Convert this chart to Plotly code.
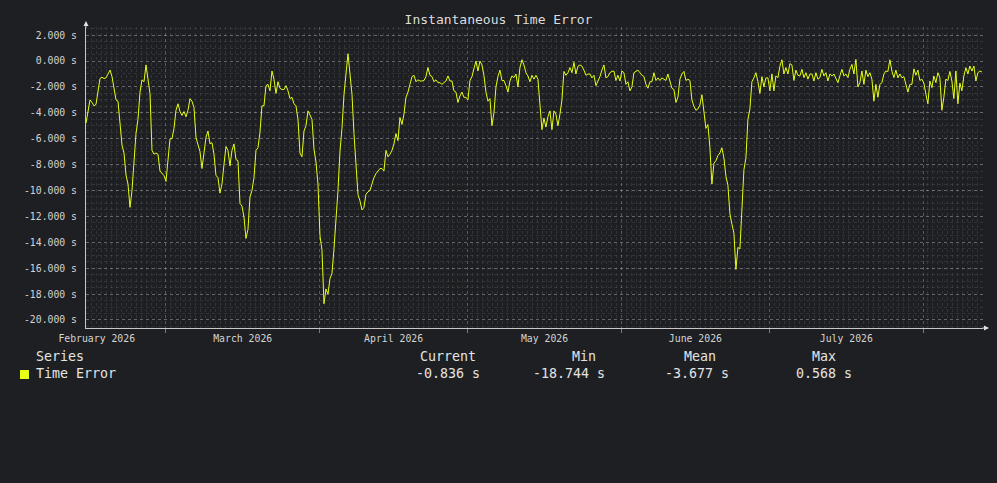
import pandas as pd
import plotly.graph_objects as go

# ---------------- data ----------------
series_name = "Time Error"
sample_start = "2026-02-12 20:00"
sample_step = "582min"

time_error_s = [
    -4.8, -3.9, -3.0, -3.2, -3.46, -3.35, -2.3, -1.35, -1.25, -1.35,
    -1.3, -1.0, -0.7, -1.2, -2.2, -3.0, -3.1, -5.0, -6.5, -7.1,
    -8.8, -9.5, -11.3, -10.0, -8.0, -5.6, -4.5, -2.4, -1.45, -1.6,
    -0.3, -1.5, -2.5, -6.9, -7.2, -7.1, -7.2, -8.5, -8.7, -8.85,
    -9.3, -7.8, -6.0, -6.0, -5.2, -3.8, -3.3, -3.9, -4.2, -3.9,
    -4.3, -3.8, -2.9, -3.1, -3.6, -5.9, -6.4, -7.0, -8.3, -6.9,
    -5.9, -5.4, -6.4, -6.3, -7.2, -8.85, -9.0, -10.2, -9.5, -8.0,
    -6.6, -6.9, -8.1, -6.9, -6.4, -7.6, -7.7, -11.0, -11.2, -12.05,
    -13.7, -13.0, -10.5, -10.0, -9.0, -6.9, -6.7, -5.5, -3.46,
    -3.46, -1.9, -1.8, -2.3, -0.77, -1.4, -2.5, -1.6, -2.1, -2.2,
    -2.2, -1.9, -2.3, -2.9, -2.8, -3.3, -3.46, -4.5, -7.1, -7.4,
    -5.4, -5.0, -3.85, -4.2, -4.5, -6.8, -7.8, -9.5, -13.5, -14.6,
    -18.744, -17.6, -18.0, -16.8, -16.4, -14.5, -12.5, -10.0, -7.0, -5.2,
    -2.6, -0.7, 0.568, -1.0, -2.56, -5.6, -7.9, -10.3, -10.8, -11.5,
    -11.3, -10.3, -10.1, -10.0, -9.5, -9.0, -8.7, -8.5, -8.3, -8.3,
    -8.5, -6.9, -7.4, -7.2, -6.9, -6.4, -5.6, -6.15, -4.36, -4.9,
    -4.1, -2.8, -2.4, -1.8, -1.2, -1.1, -1.6, -1.45, -1.54, -1.54,
    -1.5, -1.2, -0.5, -1.1, -1.2, -1.6, -1.45, -1.67,
    -1.67, -1.8, -1.67, -1.54, -1.15, -1.54, -1.54, -2.3, -2.4, -3.2,
    -2.7, -2.4, -2.8, -2.8, -3.0, -1.5, -1.2, -0.5, 0.0, -0.77,
    0.0, -0.3, -1.1, -2.4, -3.1, -2.9, -5.0, -4.0, -2.0, -1.2,
    -0.7, -1.5, -1.5, -1.9, -2.4, -1.54, -1.15, -1.28, -1.0, -2.0,
    -0.5, 0.1, -0.3, -0.9, -1.15, -1.6, -1.1, -1.4, -1.1, -1.4,
    -3.2, -5.3, -4.4, -5.1, -4.3, -3.85, -5.3, -3.85, -4.1, -5.0,
    -4.1, -3.0, -0.8, -1.1, -0.9, -0.5, -0.9, -0.1, -1.0, -0.4,
    -0.3, -0.4, -0.7, -1.1, -1.0, -1.0, -1.3, -1.1, -1.9, -1.6,
    -1.2, -0.7, -0.3, -1.3, -1.2, -0.9, -0.8, -0.77, -1.5, -1.1,
    -1.54, -0.77, -0.9, -1.8, -1.6, -2.3, -2.0, -0.9, -0.77, -0.7,
    -0.9, -1.1, -1.2, -1.8, -2.1, -1.6, -1.6, -0.9, -1.5, -1.3,
    -1.5, -1.3, -1.4, -1.5, -1.0, -1.5, -2.1, -2.2, -3.2, -2.8,
    -1.4, -1.0, -0.8, -1.5, -1.4, -1.5, -3.0, -3.5, -3.8, -3.7,
    -3.4, -2.6, -3.8, -5.2, -4.9, -6.7, -9.5, -7.9, -7.7, -7.3,
    -7.1, -6.7, -7.5, -8.9, -9.6, -11.8, -12.6, -13.3, -16.1, -14.4,
    -14.5, -10.8, -8.4, -7.5, -4.5, -3.7, -1.6, -1.3, -0.9, -1.6,
    -2.5, -1.2, -2.0, -1.3, -1.3, -2.3, -1.0, -2.3, -1.15, -1.28,
    -0.4, 0.1, -1.0, -0.5, -1.0, -0.2, -0.3, -1.5, -0.7, -1.1,
    -1.15, -0.64, -1.28, -0.9, -1.4, -1.0, -1.0, -1.54, -0.9, -1.4,
    -1.28, -0.64, -1.15, -0.9, -1.54, -1.0, -1.15, -1.0, -1.28, -1.67,
    -1.15, -0.64, -1.15, -1.0, -1.28, -0.64, -0.26, -1.0, 0.13, -2.0,
    -1.67, -0.77, -1.8, -0.7, -1.2, -0.9, -1.4, -3.1, -1.8, -2.8,
    -1.8, -1.67, -1.0, -0.77, -0.8, 0.1, -0.77, -1.28, -0.7, -1.3,
    -1.0, -1.3, -1.2, -1.9, -2.4, -1.8, -1.8, -0.6, -1.1, -0.7,
    -1.5, -1.4, -1.7, -2.56, -3.3, -1.54, -2.05, -1.15, -1.67, -0.9,
    -1.28, -3.8, -2.8, -1.4, -1.5, -0.8, -1.54, -2.9, -0.77, -3.3,
    -1.7, -2.3, -1.15, -0.51, -1.0, -0.38, -0.77, -0.38, -1.54, -0.9,
    -0.77, -0.836,
]

y_tick_values = [2, 0, -2, -4, -6, -8, -10, -12, -14, -16, -18, -20]
summary_headers = ["Current", "Min", "Mean", "Max"]
summary_values = ["-0.836 s", "-18.744 s", "-3.677 s", "0.568 s"]

# ---------------- style ----------------
BG = "#1e1f22"
LINE = "#e6ff14"
TXT = "#d4d4d4"
MAJOR = "rgba(255,255,255,0.26)"
MINOR = "rgba(255,255,255,0.09)"
AXIS = "#c8c8c8"
MONO = "DejaVu Sans Mono"

W, H = 997, 483
L, R, T, B = 86, 983, 27, 328


def px(xp):
    return (xp - L) / (R - L)


def py(yp):
    return (B - yp) / (B - T)


times = pd.date_range(sample_start, periods=len(time_error_s), freq=sample_step)

fig = go.Figure()
fig.add_trace(go.Scatter(
    x=times, y=time_error_s, mode="lines", name=series_name,
    line=dict(color=LINE, width=1), showlegend=False,
))

fig.update_layout(
    width=W, height=H,
    paper_bgcolor=BG, plot_bgcolor=BG,
    margin=dict(l=L, r=W - R, t=T, b=H - B),
    font=dict(family=MONO, color=TXT),
    title=dict(text="Instantaneous Time Error", x=0.5, xref="container",
               y=1 - 19 / H, yref="container", yanchor="middle", xanchor="center",
               font=dict(family=MONO, size=13, color="#dcdcdc")),
)

fig.update_xaxes(
    type="date",
    range=["2026-02-12 20:00", "2026-08-13 03:00"],
    tickmode="linear", tick0="2026-01-01", dtick="M1",
    ticklabelmode="period", tickformat="%B %Y",
    tickfont=dict(family=MONO, size=9.8, color=TXT),
    ticks="outside", ticklen=4, tickcolor="#777777",
    showgrid=True, gridcolor=MAJOR, griddash="dot", gridwidth=1,
    minor=dict(dtick=86400000, tick0="2026-02-01", showgrid=True,
               gridcolor=MINOR, griddash="dot", ticks=""),
    showline=True, linecolor=AXIS, linewidth=1,
    zeroline=False, ticklabelstandoff=-3,
)

fig.update_yaxes(
    range=[-20.62, 2.63],
    tickmode="array", tickvals=y_tick_values,
    ticktext=[f"{v:.3f} s" for v in y_tick_values],
    tickfont=dict(family=MONO, size=9.8, color=TXT),
    showgrid=True, gridcolor=MAJOR, griddash="dot", gridwidth=1,
    minor=dict(tickmode="linear", tick0=0, dtick=0.5, showgrid=True,
               gridcolor=MINOR, griddash="dot", ticks=""),
    showline=True, linecolor=AXIS, linewidth=1,
    zeroline=False, ticks="", ticklabelstandoff=6,
)

annotations = []
# axis arrows
annotations.append(dict(xref="paper", yref="paper", x=0, y=py(21), ax=0, ay=8,
                        showarrow=True, arrowhead=2, arrowsize=1, arrowwidth=1,
                        arrowcolor="#e0e0e0", text=""))
annotations.append(dict(xref="paper", yref="paper", x=px(989), y=0, ax=-8, ay=0,
                        showarrow=True, arrowhead=2, arrowsize=1, arrowwidth=1,
                        arrowcolor="#e0e0e0", text=""))

# summary table
LEG_FONT = dict(family=MONO, size=13.3, color="#e4e4e4")
annotations.append(dict(xref="paper", yref="paper", x=px(34), y=py(356),
                        xanchor="left", yanchor="middle", showarrow=False,
                        text="Series", font=LEG_FONT))
annotations.append(dict(xref="paper", yref="paper", x=px(34), y=py(374),
                        xanchor="left", yanchor="middle", showarrow=False,
                        text=series_name, font=LEG_FONT))
head_x = [448, 584, 700, 824]
val_x = [448, 568.5, 696.5, 824]
for h, v, hx, vx in zip(summary_headers, summary_values, head_x, val_x):
    annotations.append(dict(xref="paper", yref="paper", x=px(hx), y=py(356),
                            xanchor="center", yanchor="middle", showarrow=False,
                            text=h, font=LEG_FONT))
    annotations.append(dict(xref="paper", yref="paper", x=px(vx), y=py(374),
                            xanchor="center", yanchor="middle", showarrow=False,
                            text=v, font=LEG_FONT))
fig.update_layout(annotations=annotations)

fig.add_shape(type="rect", xref="paper", yref="paper",
              x0=px(20), x1=px(29), y0=py(379), y1=py(370),
              fillcolor=LINE, line=dict(width=0))

fig.write_html(
    "out.html",
    config={"displayModeBar": False},
    post_script="document.body.style.margin='0';document.body.style.background='#1e1f22';",
)
